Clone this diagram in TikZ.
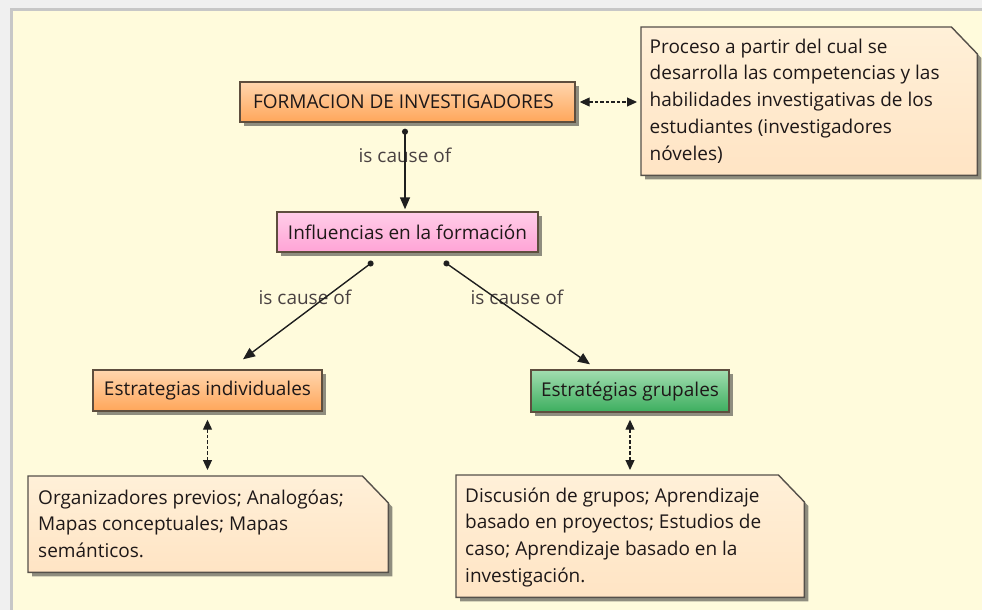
\documentclass[tikz,border=0pt]{standalone}
\usepackage{fontspec}
\setmainfont{Open Sans}
\usetikzlibrary{arrows.meta,shadows}
\definecolor{cream}{HTML}{FFFBDC}
\definecolor{txt}{HTML}{1E1818}
\definecolor{lbl}{HTML}{4A4242}
\definecolor{bord}{HTML}{5E4E3E}
\definecolor{notebord}{HTML}{55504A}
\definecolor{orTop}{HTML}{FFD6AE}
\definecolor{orBot}{HTML}{FFA65A}
\definecolor{pkTop}{HTML}{FFCDE8}
\definecolor{pkBot}{HTML}{FFA4D6}
\definecolor{grTop}{HTML}{A2DDB0}
\definecolor{grBot}{HTML}{3CAE5E}
\definecolor{ntTop}{HTML}{FFF0D8}
\definecolor{ntBot}{HTML}{FFE4C4}
\newcommand{\notepar}[2]{\parbox[t]{#1pt}{\raggedright\fontsize{19}{26.8}\selectfont #2}}
\tikzset{
  conceptbox/.style={draw=bord, line width=1.4pt, inner sep=0pt, text=txt,
    font=\fontsize{19}{22}\selectfont,
    drop shadow={shadow xshift=4pt, shadow yshift=-4pt, opacity=0.55, fill=black!80}},
  orangebox/.style={conceptbox, top color=orTop, bottom color=orBot},
  pinkbox/.style={conceptbox, top color=pkTop, bottom color=pkBot},
  greenbox/.style={conceptbox, top color=grTop, bottom color=grBot},
  noteframe/.style={inner sep=0pt, draw=none, fill=none},
  noteline/.style={draw=notebord, line width=1.4pt, top color=ntTop, bottom color=ntBot},
  noteshadow/.style={fill=black!80, opacity=0.55},
  notetext/.style={inner sep=0pt, text=txt, anchor=base west},
  linklabel/.style={text=lbl, font=\fontsize{19}{22}\selectfont, inner sep=0pt},
  conn/.style={draw=black!88, line width=1.4pt,
    {Circle[length=6pt]}-{Triangle[length=12pt,width=10pt]}},
  dashlink/.style={draw=black!88, line width=1.2pt, dash pattern=on 3.5pt off 2pt,
    {Triangle[length=10pt,width=9pt]}-{Triangle[length=10pt,width=9pt]}},
}
\begin{document}
\begin{tikzpicture}[x=1pt,y=-1pt]
% background
\fill[black!6] (0,0) rectangle (982,610);
\useasboundingbox (0,0) rectangle (982,610);
\fill[black!22] (10,8) rectangle (982,610);
\fill[cream] (13,11) rectangle (982,610);

% concept boxes
\node[orangebox, minimum width=335, minimum height=40] (f) at (407.5,102) {\hspace*{-8pt}FORMACION DE INVESTIGADORES};
\node[pinkbox, minimum width=261, minimum height=40] (i) at (407.5,232) {Influencias en la formación};
\node[orangebox, minimum width=229, minimum height=41] (e1) at (207.5,390.5) {Estrategias individuales};
\node[greenbox, minimum width=198, minimum height=42] (e2) at (630,391) {Estratégias grupales};

% note frames (named nodes)
\node[noteframe, minimum width=336, minimum height=148, anchor=north west] (n1) at (641,27) {};
\node[noteframe, minimum width=360, minimum height=96, anchor=north west] (n2) at (28,476) {};
\node[noteframe, minimum width=348, minimum height=122, anchor=north west] (n3) at (456,475) {};

% note outlines with cut corner
\foreach \n in {n1,n2,n3}{
  \fill[noteshadow] ([xshift=4pt,yshift=-4pt]\n.south west) -- ([xshift=4pt,yshift=-4pt]\n.north west)
    -- ([xshift=-22pt,yshift=-4pt]\n.north east) -- ([xshift=4pt,yshift=-31pt]\n.north east)
    -- ([xshift=4pt,yshift=-4pt]\n.south east) -- cycle;
  \path[noteline] (\n.south west) -- (\n.north west) -- ([xshift=-26pt]\n.north east)
    -- ([yshift=-27pt]\n.north east) -- (\n.south east) -- cycle;
}

% note texts
\node[notetext] (n1t) at ([xshift=8.5pt,yshift=-26pt]n1.north west)
  {\notepar{320}{Proceso a partir del cual se\\desarrolla las competencias y las\\habilidades investigativas de los\\estudiantes (investigadores\\nóveles)}};
\node[notetext] (n2t) at ([xshift=10pt,yshift=-28pt]n2.north west)
  {\notepar{340}{Organizadores previos; Analogóas;\\Mapas conceptuales; Mapas\\semánticos.}};
\node[notetext] (n3t) at ([xshift=9pt,yshift=-27pt]n3.north west)
  {\notepar{330}{Discusión de grupos; Aprendizaje\\basado en proyectos; Estudios de\\caso; Aprendizaje basado en la\\investigación.}};

% labels
\node[linklabel] (l1) at (405,155) {is cause of};
\node[linklabel] (l2) at (305,297) {is cause of};
\node[linklabel] (l3) at (517,297) {is cause of};

% connectors
\draw[conn] ([xshift=-2.5pt,yshift=-6pt]f.south) -- ([xshift=-2.5pt,yshift=2pt]i.north);
\draw[conn] ([xshift=-34.5pt,yshift=-9pt]i.south) -- ([xshift=35.5pt,yshift=10pt]e1.north);
\draw[conn] ([xshift=36.5pt,yshift=-9pt]i.south) -- ([xshift=-40pt,yshift=5pt]e2.north);

% dashed links
\draw[dashlink] ([xshift=4pt]f.east) -- ([xshift=-4pt]n1.west |- f.east);
\draw[dashlink] ([yshift=-8pt]e1.south) -- ([yshift=6pt]e1.south |- n2.north);
\draw[dashlink] ([yshift=-7pt]e2.south) -- ([yshift=5pt]e2.south |- n3.north);
\end{tikzpicture}
\end{document}
